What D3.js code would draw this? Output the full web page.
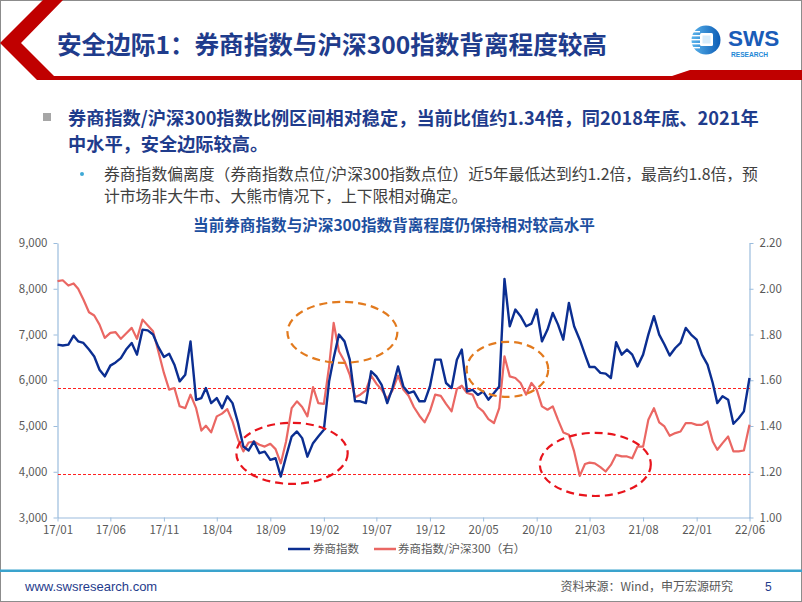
<!DOCTYPE html>
<html>
<head>
<meta charset="utf-8">
<script src="https://cdn.jsdelivr.net/npm/d3@7"></script>
<style>
  html, body { margin: 0; padding: 0; background: #ffffff; }
  svg { display: block; }
  text { font-family: "Noto Sans CJK SC", "Liberation Sans", sans-serif; }
  .num { font-family: "Liberation Sans", Arial, sans-serif; }
</style>
</head>
<body>
<svg id="chart" width="802" height="602"></svg>
<script>
// ---------------- data ----------------
const dates = [
"2017-01-01","2017-01-16","2017-02-01","2017-02-16","2017-03-01","2017-03-16","2017-04-01","2017-04-16","2017-05-01","2017-05-16",
"2017-06-01","2017-06-16","2017-07-01","2017-07-16","2017-08-01","2017-08-16","2017-09-01","2017-09-16","2017-10-01","2017-10-16",
"2017-11-01","2017-11-16","2017-12-01","2017-12-16","2018-01-01","2018-01-16","2018-02-01","2018-02-16","2018-03-01","2018-03-16",
"2018-04-01","2018-04-16","2018-05-01","2018-05-16","2018-06-01","2018-06-16","2018-07-01","2018-07-16","2018-08-01","2018-08-16",
"2018-09-01","2018-09-16","2018-10-01","2018-10-16","2018-11-01","2018-11-16","2018-12-01","2018-12-16","2019-01-01","2019-01-16",
"2019-02-01","2019-02-16","2019-03-01","2019-03-16","2019-04-01","2019-04-16","2019-05-01","2019-05-16","2019-06-01","2019-06-16",
"2019-07-01","2019-07-16","2019-08-01","2019-08-16","2019-09-01","2019-09-16","2019-10-01","2019-10-16","2019-11-01","2019-11-16",
"2019-12-01","2019-12-16","2020-01-01","2020-01-16","2020-02-01","2020-02-16","2020-03-01","2020-03-16","2020-04-01","2020-04-16",
"2020-05-01","2020-05-16","2020-06-01","2020-06-16","2020-07-01","2020-07-16","2020-08-01","2020-08-16","2020-09-01","2020-09-16",
"2020-10-01","2020-10-16","2020-11-01","2020-11-16","2020-12-01","2020-12-16","2021-01-01","2021-01-16","2021-02-01","2021-02-16",
"2021-03-01","2021-03-16","2021-04-01","2021-04-16","2021-05-01","2021-05-16","2021-06-01","2021-06-16","2021-07-01","2021-07-16",
"2021-08-01","2021-08-16","2021-09-01","2021-09-16","2021-10-01","2021-10-16","2021-11-01","2021-11-16","2021-12-01","2021-12-16",
"2022-01-01","2022-01-16","2022-02-01","2022-02-16","2022-03-01","2022-03-16","2022-04-01","2022-04-16","2022-05-01","2022-05-16",
"2022-06-01"];

// 券商指数 (left axis)
const brokerIndex = [
6780,6760,6780,6975,6850,6815,6670,6520,6230,6085,
6320,6390,6485,6670,6815,6560,7107,7090,7000,6730,
6510,6580,6340,5975,6120,6850,5570,5610,5830,5500,
5610,5390,5650,5500,5060,4550,4465,4660,4405,4440,
4260,4295,3895,4330,4770,4880,4735,4330,4625,4770,
4917,5975,6485,6998,6850,6450,5540,5540,5500,6195,
6085,5900,5500,5830,6300,5865,5720,5755,5540,5540,
5865,6450,6450,5940,5830,6450,6670,5755,5790,5680,
5755,5575,5720,5865,8215,7180,7545,7400,7180,7238,
7545,6850,7107,7472,7216,6887,7691,7180,6887,6560,
6290,6290,6160,6145,6050,6830,6560,6670,6560,6300,
6560,6998,7400,6998,6780,6540,6705,6815,7144,6998,
6887,6560,6340,5940,5500,5650,5575,5050,5170,5320,
6050];

// 券商指数/沪深300 (right axis)
const ratio = [
2.033,2.037,2.014,2.023,2.000,1.953,1.897,1.883,1.843,1.785,
1.807,1.810,1.781,1.804,1.829,1.781,1.865,1.839,1.814,1.727,
1.632,1.559,1.566,1.486,1.478,1.537,1.478,1.380,1.401,1.372,
1.442,1.454,1.474,1.420,1.340,1.289,1.328,1.332,1.318,1.310,
1.322,1.299,1.237,1.332,1.478,1.508,1.483,1.442,1.570,1.500,
1.497,1.661,1.851,1.727,1.683,1.624,1.526,1.537,1.556,1.620,
1.585,1.559,1.518,1.556,1.620,1.559,1.532,1.483,1.445,1.416,
1.464,1.537,1.532,1.497,1.464,1.562,1.576,1.544,1.537,1.483,
1.464,1.430,1.413,1.478,1.705,1.617,1.610,1.588,1.537,1.588,
1.559,1.486,1.471,1.486,1.427,1.372,1.362,1.289,1.182,1.234,
1.240,1.237,1.220,1.201,1.230,1.274,1.267,1.267,1.259,1.310,
1.310,1.427,1.478,1.416,1.398,1.357,1.369,1.376,1.413,1.413,
1.405,1.405,1.420,1.332,1.296,1.325,1.354,1.289,1.289,1.293,
1.405];

const tickDates  = ["2017-01-01","2017-06-01","2017-11-01","2018-04-01","2018-09-01","2019-02-01","2019-07-01","2019-12-01","2020-05-01","2020-10-01","2021-03-01","2021-08-01","2022-01-01","2022-06-01"];
const tickLabels = ["17/01","17/06","17/11","18/04","18/09","19/02","19/07","19/12","20/05","20/10","21/03","21/08","22/01","22/06"];
const leftTicks  = [3000,4000,5000,6000,7000,8000,9000];
const rightTicks = [1.0,1.2,1.4,1.6,1.8,2.0,2.2];
const bandRatios = [1.568, 1.19];   // dashed upper / lower bounds (right axis)
// highlighted zones: [start date, end date, top ratio, bottom ratio, kind]
const zones = [
  ["2018-05-27","2019-04-10",1.414,1.147,"red"],
  ["2018-10-20","2019-08-30",1.943,1.676,"orange"],
  ["2020-03-15","2020-11-03",1.768,1.527,"orange"],
  ["2020-10-10","2021-08-23",1.370,1.094,"red"]
];
const seriesNames = ["券商指数","券商指数/沪深300（右）"];

// ---------------- drawing ----------------
const parse = d3.timeParse("%Y-%m-%d");
const svg = d3.select("#chart");
const NAVY = "#1f3c8c";

// slide frame
svg.append("rect").attr("x",0.5).attr("y",0.5).attr("width",801).attr("height",601)
   .attr("fill","#fff").attr("stroke","#8c8c8c").attr("stroke-width",1);

// header red decoration
svg.append("path")
  .attr("d","M43,0 L63,0 L21,43 L54,76 L672,76 L690,70 L802,70 L802,80 L37,80 L0,43 Z")
  .attr("fill","#c00000");

// header title
svg.append("text").attr("x",57).attr("y",54)
  .attr("font-size",24.6).attr("font-weight",700).attr("fill",NAVY)
  .text("安全边际1：券商指数与沪深300指数背离程度较高");

// logo
const logo = svg.append("g");
const grad = svg.append("defs").append("linearGradient").attr("id","lg").attr("x1","0").attr("x2","1");
grad.append("stop").attr("offset","0").attr("stop-color","#5ab4ec");
grad.append("stop").attr("offset","1").attr("stop-color","#0c5cb5");
logo.append("circle").attr("cx",706).attr("cy",40).attr("r",14.5).attr("fill","url(#lg)");
[31,35,39,43,47].forEach(yy=>{
  logo.append("rect").attr("x",688).attr("y",yy).attr("width",12).attr("height",1.4).attr("fill","#ffffff");
});
logo.append("rect").attr("x",700).attr("y",33).attr("width",13).attr("height",13).attr("rx",1.5).attr("fill","#ffffff");
logo.append("rect").attr("x",702.5).attr("y",35.5).attr("width",8).attr("height",8).attr("fill","#d7ecfb");
logo.append("text").attr("class","num").attr("x",728).attr("y",46)
  .attr("font-size",22.5).attr("font-weight",700).attr("fill","#1a5cb8").text("SWS");
logo.append("text").attr("class","num").attr("x",731).attr("y",57)
  .attr("font-size",6.6).attr("font-weight",700).attr("fill","#1e88d6").text("RESEARCH");

// bullets
svg.append("rect").attr("x",43).attr("y",113).attr("width",8).attr("height",8).attr("fill","#a6a6a6");
svg.append("text").attr("x",68).attr("y",124.5).attr("font-size",18.2).attr("font-weight",700).attr("fill",NAVY)
  .text("券商指数/沪深300指数比例区间相对稳定，当前比值约1.34倍，同2018年底、2021年");
svg.append("text").attr("x",68).attr("y",150.5).attr("font-size",18.2).attr("font-weight",700).attr("fill",NAVY)
  .text("中水平，安全边际较高。");
svg.append("circle").attr("cx",82).attr("cy",174).attr("r",2).attr("fill","#3fa9d6");
svg.append("text").attr("x",104).attr("y",179.5).attr("font-size",15.8).attr("fill","#404040")
  .text("券商指数偏离度（券商指数点位/沪深300指数点位）近5年最低达到约1.2倍，最高约1.8倍，预");
svg.append("text").attr("x",104).attr("y",202).attr("font-size",15.8).attr("fill","#404040")
  .text("计市场非大牛市、大熊市情况下，上下限相对确定。");

// chart title
svg.append("text").attr("x",394).attr("y",230.5).attr("text-anchor","middle")
  .attr("font-size",15.6).attr("font-weight",700).attr("fill","#1d4f9f")
  .text("当前券商指数与沪深300指数背离程度仍保持相对较高水平");

// scales
const x  = d3.scaleTime().domain([parse(dates[0]), parse(dates[dates.length-1])]).range([57.5, 749.5]);
const yL = d3.scaleLinear().domain([3000, 9000]).range([517.5, 243]);
const yR = d3.scaleLinear().domain([1.0, 2.2]).range([517.5, 243]);

const AX = "#9bbcdd";
function styleAxis(g){
  g.select(".domain").attr("stroke",AX).attr("stroke-width",1.2);
  g.selectAll(".tick line").attr("stroke",AX);
  g.selectAll(".tick text").attr("fill","#595959").attr("font-size",11.5)
    .attr("font-family","'Liberation Sans', Arial, sans-serif");
}
svg.append("g").attr("transform","translate(57.5,0)")
  .call(d3.axisLeft(yL).tickValues(leftTicks).tickFormat(d3.format(",")).tickSize(4).tickPadding(6).tickSizeOuter(0))
  .call(styleAxis);
svg.append("g").attr("transform","translate(749.5,0)")
  .call(d3.axisRight(yR).tickValues(rightTicks).tickFormat(d3.format(".2f")).tickSize(4).tickPadding(6).tickSizeOuter(0))
  .call(styleAxis);
svg.append("g").attr("transform","translate(0,517.5)")
  .call(d3.axisBottom(x).tickValues(tickDates.map(parse)).tickFormat((d,i)=>tickLabels[i]).tickSize(4).tickPadding(4).tickSizeOuter(0))
  .call(styleAxis);

// dashed bound lines
svg.append("g").selectAll("line").data(bandRatios).join("line")
  .attr("x1",x.range()[0]).attr("x2",x.range()[1])
  .attr("y1",d=>Math.round(yR(d))+0.5).attr("y2",d=>Math.round(yR(d))+0.5)
  .attr("stroke","#ff2020").attr("stroke-width",1).attr("stroke-dasharray","3,2")
  .attr("shape-rendering","crispEdges");

// series
const pts = dates.map((d,i)=>({date:parse(d), b:brokerIndex[i], r:ratio[i]}));
svg.append("path").datum(pts)
  .attr("d", d3.line().x(d=>x(d.date)).y(d=>yR(d.r)))
  .attr("fill","none").attr("stroke","#ea6763").attr("stroke-width",2.2).attr("stroke-linejoin","round");
svg.append("path").datum(pts)
  .attr("d", d3.line().x(d=>x(d.date)).y(d=>yL(d.b)))
  .attr("fill","none").attr("stroke","#0b2e91").attr("stroke-width",2.4).attr("stroke-linejoin","round");

// highlight ellipses
svg.append("g").selectAll("ellipse").data(zones).join("ellipse")
  .attr("cx",d=>(x(parse(d[0]))+x(parse(d[1])))/2)
  .attr("cy",d=>(yR(d[2])+yR(d[3]))/2)
  .attr("rx",d=>(x(parse(d[1]))-x(parse(d[0])))/2)
  .attr("ry",d=>(yR(d[3])-yR(d[2]))/2)
  .attr("fill","none")
  .attr("stroke",d=>d[4]==="red" ? "#e8141c" : "#e27a1e")
  .attr("stroke-width",2.2).attr("stroke-dasharray","8,5");

// legend
const lg = svg.append("g").attr("transform","translate(0,549)");
lg.append("line").attr("x1",288).attr("x2",310).attr("y1",0).attr("y2",0).attr("stroke","#0b2e91").attr("stroke-width",2.5);
lg.append("text").attr("x",313).attr("y",4).attr("font-size",11.5).attr("fill","#595959").text(seriesNames[0]);
lg.append("line").attr("x1",374).attr("x2",396).attr("y1",0).attr("y2",0).attr("stroke","#ea6763").attr("stroke-width",2.5);
lg.append("text").attr("x",398).attr("y",4).attr("font-size",11.5).attr("fill","#595959").text(seriesNames[1]);

// footer
svg.append("rect").attr("x",0).attr("y",569.5).attr("width",802).attr("height",2.5).attr("fill","#3aa3cd");
svg.append("text").attr("class","num").attr("x",25).attr("y",591).attr("font-size",13).attr("fill","#1f3c8c").text("www.swsresearch.com");
svg.append("text").attr("x",733).attr("y",591).attr("text-anchor","end").attr("font-size",12).attr("fill","#595959").text("资料来源：Wind，申万宏源研究");
svg.append("text").attr("class","num").attr("x",765).attr("y",591).attr("font-size",12).attr("fill","#1f3c8c").text("5");
</script>
</body>
</html>
